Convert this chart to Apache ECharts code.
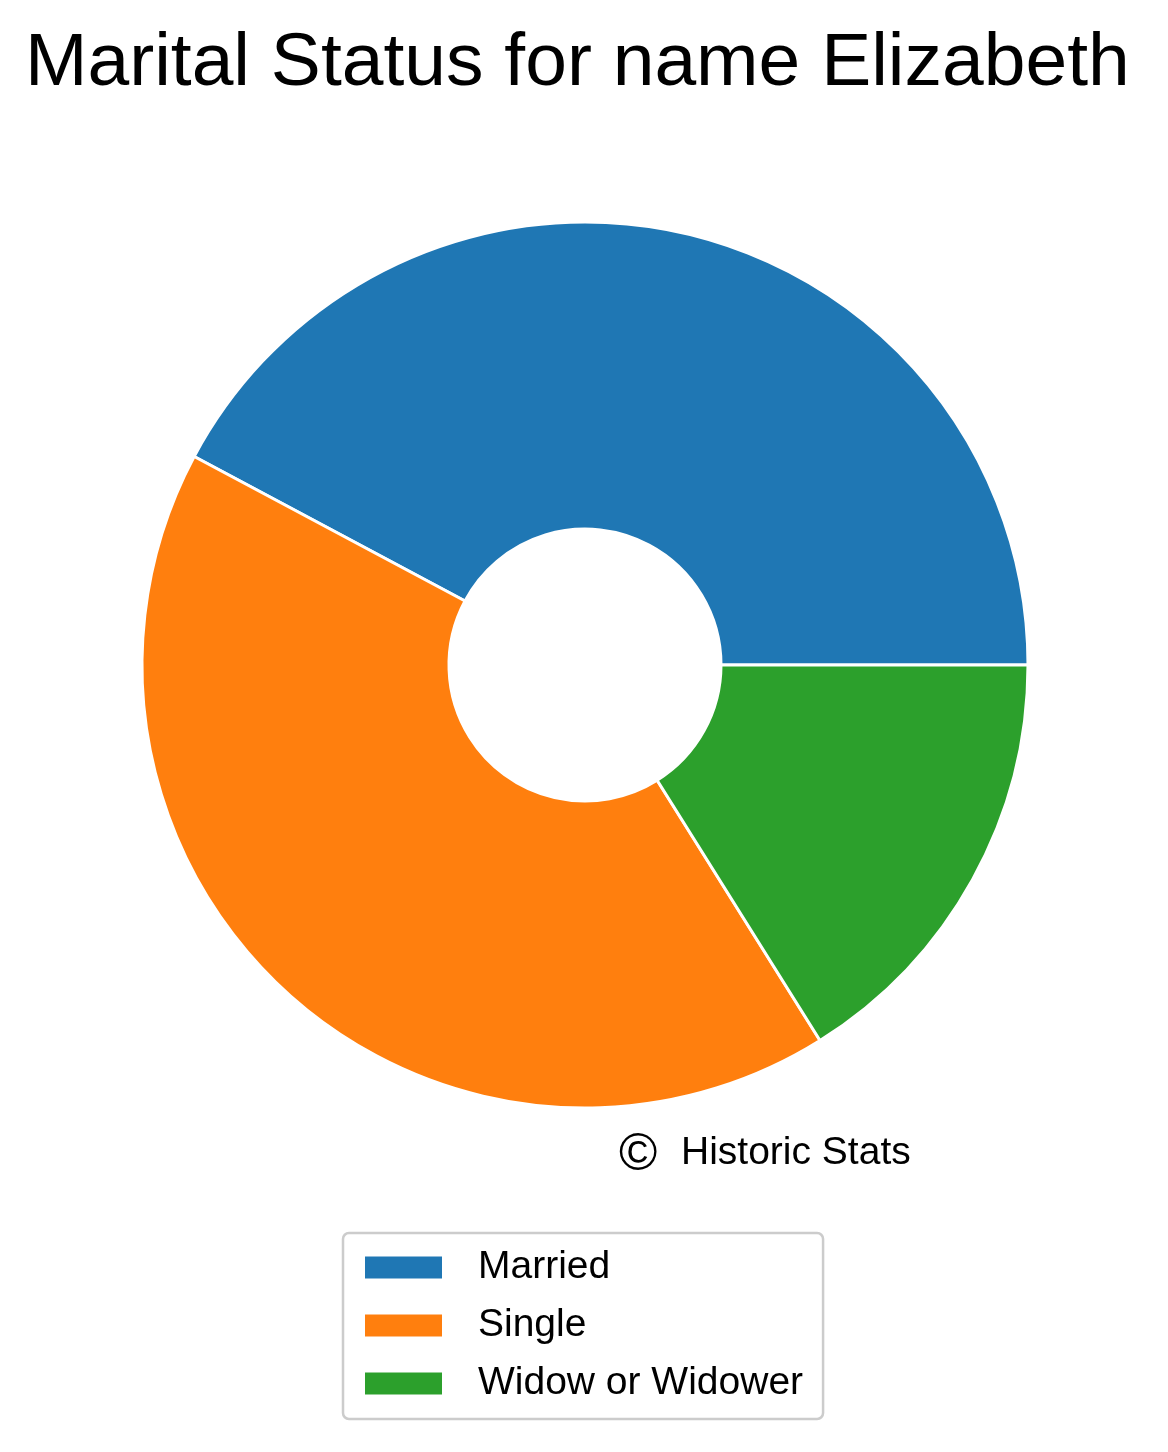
<!DOCTYPE html>
<html>
<head>
<meta charset="utf-8">
<script src="https://cdn.jsdelivr.net/npm/echarts@6/dist/echarts.min.js"></script>
<style>
  html, body { margin: 0; padding: 0; background: #ffffff; }
  #chart { width: 1168px; height: 1452px; }
</style>
</head>
<body>
<div id="chart"></div>
<script>
const categories = ['Married', 'Single', 'Widow or Widower'];
const values = [42.2, 41.7, 16.1];
const colors = ['#1f77b4', '#ff7f0e', '#2ca02c'];
const titleText = 'Marital Status for name Elizabeth';
const creditText = 'Historic Stats';

const FONT = '"Liberation Sans", Arial, sans-serif';
const chart = echarts.init(document.getElementById('chart'), null, { renderer: 'canvas' });

const option = {
  backgroundColor: '#ffffff',
  animation: false,
  title: {
    text: titleText,
    left: 25,
    top: 27,
    padding: 0,
    textStyle: { fontFamily: FONT, fontSize: 75, fontWeight: 'normal', color: '#000000' }
  },
  legend: {
    orient: 'vertical',
    left: 343,
    top: 1233,
    height: 300,
    padding: [15, 20, 16, 20],
    itemWidth: 79,
    itemHeight: 24,
    itemGap: 19,
    icon: 'rect',
    selectedMode: false,
    backgroundColor: '#ffffff',
    borderColor: '#cccccc',
    borderWidth: 2.5,
    borderRadius: 6,
    textStyle: {
      fontFamily: FONT,
      fontSize: 39,
      color: '#000000',
      padding: [0, 0, 0, 30]
    },
    data: categories
  },
  graphic: [
    {
      type: 'text',
      left: 619,
      top: 1130,
      style: { text: '\u00a9', font: '52px ' + FONT, fill: '#000000' }
    },
    {
      type: 'text',
      left: 681,
      top: 1134,
      style: { text: creditText, font: '39px ' + FONT, fill: '#000000' }
    }
  ],
  series: [{
    type: 'pie',
    center: [585, 665],
    radius: [136, 443],
    startAngle: 0,
    clockwise: false,
    avoidLabelOverlap: false,
    label: { show: false },
    labelLine: { show: false },
    emphasis: { disabled: true },
    itemStyle: { borderColor: '#ffffff', borderWidth: 3 },
    data: categories.map((name, i) => ({ name: name, value: values[i], itemStyle: { color: colors[i] } }))
  }]
};
chart.setOption(option);
</script>
</body>
</html>
